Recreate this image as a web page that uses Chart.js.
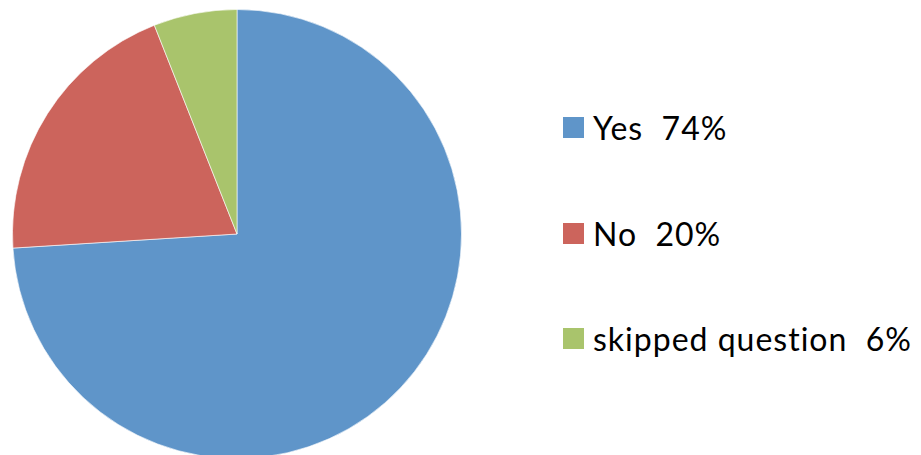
<!doctype html>
<html lang="en">
  <head>
    <meta charset="UTF-8" />
    <title>Survey answers</title>
    <script src="https://cdn.jsdelivr.net/npm/chart.js"></script>
    <style>
      html, body { margin: 0; padding: 0; background: #fff; overflow: hidden; }
      body { width: 921px; height: 455px; position: relative; }
      #pie-wrap { position: absolute; left: 12px; top: 9px; width: 450px; height: 450px; }
      #legend { position: absolute; left: 563px; top: 0; font-family: Lato, "Open Sans", sans-serif; font-size: 32px; letter-spacing: 1px; color: #000; }
      .item { position: absolute; left: 0; white-space: pre; display: flex; align-items: center; height: 40px; }
      .swatch { width: 21px; height: 21px; margin-right: 9px; flex: none; }
    </style>
  </head>
  <body>
    <div id="pie-wrap"><canvas id="answers-chart"></canvas></div>
    <div id="legend"></div>
    <script>
      const labels = ['Yes', 'No', 'skipped question'];
      const percents = [74, 20, 6];
      const colors = ['#5F95C9', '#CC645C', '#A9C46C'];

      // html legend, one row per answer
      const legendTops = [107, 213, 318];
      const legend = document.getElementById('legend');
      labels.forEach((name, i) => {
        const row = document.createElement('div');
        row.className = 'item';
        row.style.top = legendTops[i] + 'px';
        const sw = document.createElement('span');
        sw.className = 'swatch';
        sw.style.background = colors[i];
        const txt = document.createElement('span');
        txt.textContent = name + '  ' + percents[i] + '%';
        row.appendChild(sw);
        row.appendChild(txt);
        legend.appendChild(row);
      });

      const ctx = document.getElementById('answers-chart').getContext('2d');
      new Chart(ctx, {
        type: 'pie',
        data: {
          labels: labels,
          datasets: [{
            data: percents,
            backgroundColor: colors,
            borderColor: 'rgba(255,255,255,0.6)',
            borderWidth: 1
          }]
        },
        options: {
          responsive: true,
          maintainAspectRatio: false,
          animation: false,
          layout: { padding: 0 },
          plugins: {
            legend: { display: false },
            tooltip: { enabled: false }
          }
        }
      });
    </script>
  </body>
</html>
